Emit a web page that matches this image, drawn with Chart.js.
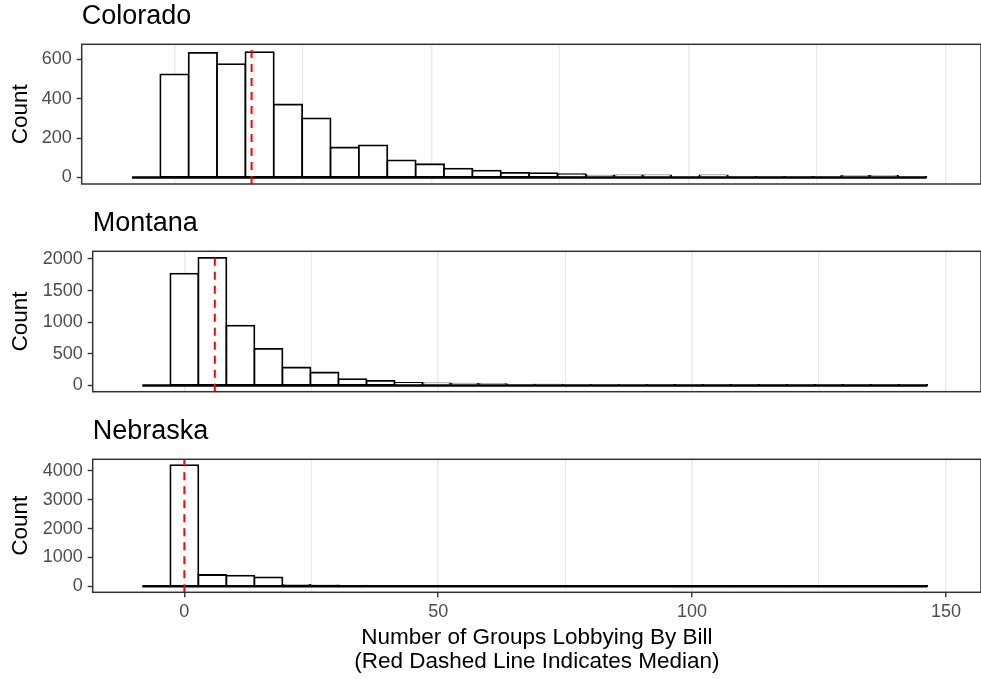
<!DOCTYPE html>
<html><head><meta charset="utf-8">
<script src="https://cdn.jsdelivr.net/npm/chart.js@4.4.1/dist/chart.umd.min.js"></script>
<style>
html,body{margin:0;padding:0;overflow:hidden;background:#fff;}
#wrap{position:relative;width:981px;height:679px;background:#fff;overflow:hidden;}
canvas{position:absolute;left:0;}
</style></head><body>
<div id="wrap">
<canvas id="c0" width="981" height="207" style="top:0px"></canvas>
<canvas id="c1" width="981" height="208" style="top:207px"></canvas>
<canvas id="c2" width="981" height="290" style="top:415px"></canvas>
</div>
<script>
// ---- data ----
const states = ["Colorado", "Montana", "Nebraska"];
const binWidth = 5.52;
const binCenters = [-5.52, 0, 5.52, 11.04, 16.56, 22.08, 27.6, 33.12, 38.64, 44.16, 49.68, 55.2, 60.72, 66.24,
  71.76, 77.28, 82.8, 88.32, 93.84, 99.36, 104.88, 110.4, 115.92, 121.44, 126.96, 132.48, 138, 143.52];
const coloradoCounts = [0, 523, 632, 575, 635, 370, 300, 152, 163, 87, 67, 45, 35, 23, 22, 17, 9, 10, 10, 3, 10, 2, 2, 2, 2, 8, 8, 2];
const montanaCounts = [0, 1768, 2016, 947, 580, 284, 205, 100, 74, 42, 35, 28, 20, 15, 12, 10, 8, 9, 6, 5, 5, 4, 4, 5, 5, 4, 3, 2];
const nebraskaCounts = [0, 4197, 391, 367, 311, 45, 30, 20, 14, 10, 8, 6, 5, 5, 4, 4, 3, 3, 3, 2, 2, 2, 2, 2, 2, 2, 1, 1];
const medians = [15, 6, 0];
const yMins = [-33, -98, -208];
const yMaxs = [675, 2120, 4400];
const coloradoYTicks = [0, 200, 400, 600];
const montanaYTicks = [0, 500, 1000, 1500, 2000];
const nebraskaYTicks = [0, 1000, 2000, 3000, 4000];
const xMin = -18.05, xMax = 156.9;
const xGridTicks = [0, 25, 50, 75, 100, 125, 150];
const xLabelTicks = [0, 50, 100, 150];
const xTitle = ["Number of Groups Lobbying By Bill", "(Red Dashed Line Indicates Median)"];
const yTitle = "Count";
const allCounts = [coloradoCounts, montanaCounts, nebraskaCounts];
const allYTicks = [coloradoYTicks, montanaYTicks, nebraskaYTicks];

// ---- drawing ----
const FAM = "'Liberation Sans', Arial, Helvetica, sans-serif";
const panelBorder = {
  id: 'panelBorder',
  afterDraw(chart) {
    const a = chart.chartArea, c = chart.ctx;
    c.save();
    c.strokeStyle = '#333333';
    c.lineWidth = 1.5;
    c.strokeRect(a.left, a.top, a.right - a.left, a.bottom - a.top);
    c.restore();
  }
};
const isLabelTick = v => xLabelTicks.indexOf(v) >= 0;

const layouts = [
  {canvas: 'c0', left: 81.7, bottomPad: 23, xHeight: 0, bottom: false},
  {canvas: 'c1', left: 92.7, bottomPad: 23.3, xHeight: 0, bottom: false},
  {canvas: 'c2', left: 92.7, bottomPad: 0, xHeight: 290 - 177.3, bottom: true}
];

states.forEach((name, i) => {
  const L = layouts[i];
  const counts = allCounts[i];
  new Chart(document.getElementById(L.canvas), {
    type: 'bar',
    data: {
      datasets: [
        {
          type: 'line', label: 'median',
          data: [{x: medians[i], y: yMins[i]}, {x: medians[i], y: yMaxs[i]}],
          borderColor: '#FF0000', borderWidth: 2, borderDash: [8, 6],
          pointRadius: 0, order: 0
        },
        {
          type: 'line', label: 'base',
          data: [{x: binCenters[0] - binWidth / 2, y: 0}, {x: binCenters[binCenters.length - 1] + binWidth / 2, y: 0}],
          borderColor: '#000000', borderWidth: 2.5, pointRadius: 0, order: 1
        },
        {
          type: 'bar', label: name,
          data: binCenters.map((x, j) => ({x: x, y: counts[j]})),
          backgroundColor: '#FFFFFF', borderColor: '#000000', borderWidth: 1.8,
          borderSkipped: false, inflateAmount: 0.9,
          categoryPercentage: 1, barPercentage: 1, order: 2
        }
      ]
    },
    options: {
      responsive: false, animation: false, devicePixelRatio: 1,
      events: [],
      layout: {padding: {top: 0.8, left: 0, right: 0, bottom: L.bottomPad}},
      plugins: {
        legend: {display: false},
        tooltip: {enabled: false},
        title: {
          display: true, text: name, align: 'start', fullSize: false, color: '#000000',
          font: {family: FAM, size: 27, weight: 'normal', lineHeight: 1.2},
          padding: {top: 0, bottom: 11.1}
        }
      },
      scales: {
        x: {
          type: 'linear', min: xMin, max: xMax, offset: false,
          border: {display: false},
          afterBuildTicks: s => { s.ticks = xGridTicks.map(v => ({value: v})); },
          grid: {
            offset: false, color: '#EBEBEB',
            lineWidth: ctx => (ctx.tick && isLabelTick(ctx.tick.value)) ? 1.5 : 1.1,
            drawTicks: L.bottom, tickLength: 5, tickWidth: 1.4,
            tickColor: ctx => (ctx.tick && isLabelTick(ctx.tick.value)) ? '#333333' : 'rgba(0,0,0,0)'
          },
          ticks: {
            display: L.bottom, autoSkip: false,
            maxRotation: 0, minRotation: 0, color: '#4D4D4D', padding: 4,
            font: {family: FAM, size: 18},
            callback: v => (isLabelTick(v) ? String(v) : '')
          },
          title: {
            display: L.bottom, text: xTitle, color: '#000000',
            font: {family: FAM, size: 22.5, lineHeight: 1.08},
            padding: {top: 0, bottom: 31}
          },
          afterFit: s => { s.height = L.xHeight; s.paddingLeft = 0; s.paddingRight = 0; }
        },
        y: {
          type: 'linear', min: yMins[i], max: yMaxs[i],
          border: {display: false},
          afterBuildTicks: s => { s.ticks = allYTicks[i].map(v => ({value: v})); },
          grid: {drawOnChartArea: false, drawTicks: true, tickLength: 5, tickWidth: 1.4, tickColor: '#333333'},
          ticks: {
            autoSkip: false, color: '#4D4D4D', padding: 5,
            font: {family: FAM, size: 18},
            callback: v => String(v)
          },
          title: {
            display: true, text: yTitle, color: '#000000',
            font: {family: FAM, size: 22.5, lineHeight: 1.2},
            padding: {top: 7, bottom: 0}
          },
          afterFit: s => { s.width = L.left; s.paddingTop = 0; s.paddingBottom = 0; }
        }
      }
    },
    plugins: [panelBorder]
  });
});
</script>
</body></html>
